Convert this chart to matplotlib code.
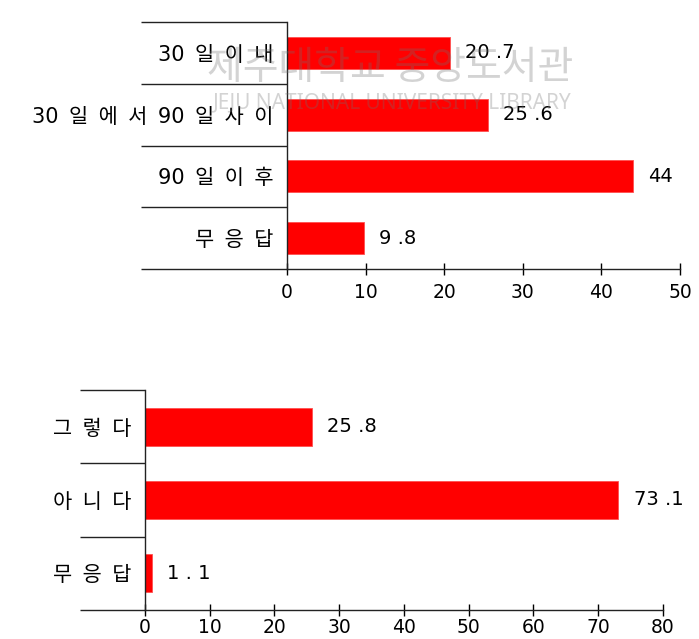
import matplotlib
matplotlib.use('Agg')
import matplotlib.pyplot as plt

# DejaVu first for the wide digits, Hangul falls back to Noto CJK
plt.rcParams['font.family'] = ['DejaVu Sans', 'Noto Sans CJK KR']

# top chart
period_labels = ['30일이내', '30일에서90일사이', '90일이후', '무응답']
period_values = [20.7, 25.6, 44, 9.8]
period_text = ['20 .7', '25 .6', '44', '9 .8']
period_ticks = [0, 10, 20, 30, 40, 50]

# bottom chart
answer_labels = ['그렇다', '아니다', '무응답']
answer_values = [25.8, 73.1, 1.1]
answer_text = ['25 .8', '73 .1', '1 . 1']
answer_ticks = [0, 10, 20, 30, 40, 50, 60, 70, 80]


def spaced(s):
    # wide letter spacing like the original, digits kept together
    out = ''
    for i, c in enumerate(s):
        if i > 0 and not (c.isdigit() and s[i - 1].isdigit()):
            out += '\u2002'
        out += c
    return out


def draw(ax, labels, values, texts, ticks, sep_len, tick_pad):
    pos = list(range(len(labels)))
    ax.barh(pos, values, height=0.52, color='#ff0000', edgecolor='#ff5050',
            linewidth=0.6, zorder=2)
    ax.set_ylim(len(labels) - 0.5, -0.5)
    ax.set_xlim(ticks[0], ticks[-1])

    ax.set_yticks(pos)
    ax.set_yticklabels([spaced(l) for l in labels], fontsize=15)
    ax.tick_params(axis='y', which='major', length=0, pad=10)
    ax.set_yticks([p - 0.5 for p in range(len(labels) + 1)], minor=True)
    ax.tick_params(axis='y', which='minor', length=sep_len, width=1, color='#222222')

    ax.set_xticks(ticks)
    ax.tick_params(axis='x', direction='inout', length=8, width=1, pad=tick_pad,
                   labelsize=13.5)

    for s in ['top', 'right']:
        ax.spines[s].set_visible(False)
    for s in ['left', 'bottom']:
        ax.spines[s].set_linewidth(1)
        ax.spines[s].set_color('#222222')

    for p, v, t in zip(pos, values, texts):
        ax.annotate(t, (v, p), xytext=(11, 0), textcoords='offset points',
                    va='center', ha='left', fontsize=14)


fig = plt.figure(figsize=(6.99, 6.39), dpi=100)

ax1 = fig.add_axes([0.4106, 0.579, 0.5622, 0.3865])
draw(ax1, period_labels, period_values, period_text, period_ticks, 105, 6)

ax2 = fig.add_axes([0.2074, 0.0454, 0.741, 0.3443])
draw(ax2, answer_labels, answer_values, answer_text, answer_ticks, 47, 2)

# library watermark
fig.text(0.558, 0.894, '제주대학교 중앙도서관', fontsize=28, family='Noto Sans CJK KR',
         color='#707070', alpha=0.3, ha='center', va='center', zorder=10)
fig.text(0.561, 0.839, 'JEJU NATIONAL UNIVERSITY LIBRARY', fontsize=15,
         family='Noto Sans', color='#707070', alpha=0.3, ha='center',
         va='center', zorder=10)

plt.savefig('out.png', dpi=100)
